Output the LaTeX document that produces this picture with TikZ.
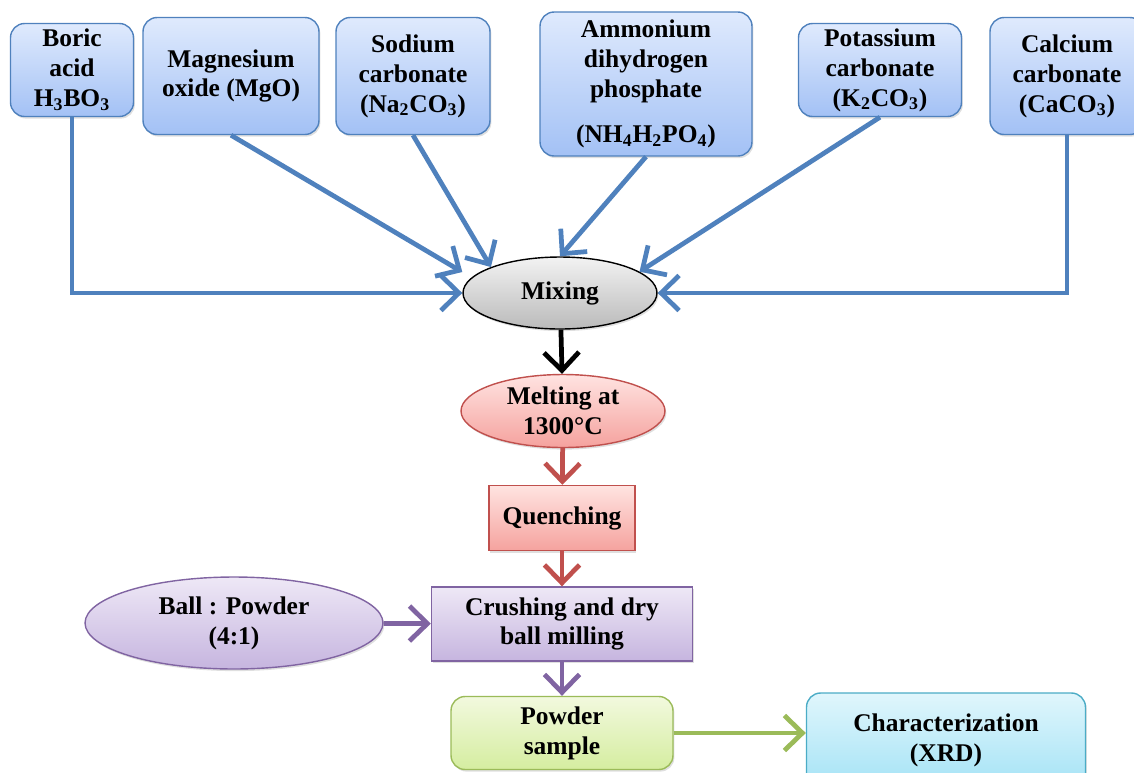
\documentclass[tikz,border=0pt]{standalone}
\usepackage{fontspec}
\setmainfont{Liberation Serif}
\usepackage{tikz}
\usepackage{xcolor}
\usetikzlibrary{arrows.meta, positioning, shapes.geometric, shadows}
\definecolor{flowblue}{HTML}{4F81BD}
\definecolor{flowbluetop}{HTML}{DFEAFD}
\definecolor{flowbluebot}{HTML}{A3C1F5}
\definecolor{flowred}{HTML}{C0504D}
\definecolor{flowredtop}{HTML}{FFE3E1}
\definecolor{flowredbot}{HTML}{F5A29E}
\definecolor{flowpurple}{HTML}{8064A2}
\definecolor{flowpurpletop}{HTML}{EEE8F6}
\definecolor{flowpurplebot}{HTML}{C6B5DF}
\definecolor{flowgreen}{HTML}{9BBB59}
\definecolor{flowgreentop}{HTML}{F2F9DE}
\definecolor{flowgreenbot}{HTML}{D5EDA0}
\definecolor{flowcyan}{HTML}{4BACC6}
\definecolor{flowcyantop}{HTML}{E0F6FC}
\definecolor{flowcyanbot}{HTML}{A5E3F6}

\begin{document}
\begin{tikzpicture}[
    x=0.02cm, y=-0.02cm,
    base/.style={font=\bfseries\fontsize{14.5}{17}\selectfont, text=black, align=center, line width=0.8pt,
      drop shadow={opacity=0.25, shadow xshift=0.8pt, shadow yshift=-1.2pt}},
    chem/.style={base, draw=flowblue, rounded corners=8pt, top color=flowbluetop, bottom color=flowbluebot, inner sep=1pt},
    procbox/.style={base, draw=#1, top color=#1top, bottom color=#1bot, inner sep=2pt},
    procell/.style={base, ellipse, draw=#1, top color=#1top, bottom color=#1bot, inner sep=0pt},
    feed/.style={-{Straight Barb[length=3.6mm, width=7mm]}, line width=2.7pt, color=#1},
]
\clip (0,0) rectangle (1134,772);

% Raw materials
\node[chem, minimum width=2.46cm, minimum height=1.86cm] (boric) at (72,70) {Boric\\acid\\H\textsubscript{3}BO\textsubscript{3}};
\node[chem, minimum width=3.52cm, minimum height=2.34cm] (mgo) at (231,76) {Magnesium\\oxide (MgO)};
\node[chem, minimum width=3.08cm, minimum height=2.34cm] (naco) at (413,76) {Sodium\\carbonate\\(Na\textsubscript{2}CO\textsubscript{3})};
\node[chem, minimum width=4.24cm, minimum height=2.88cm] (nhpo) at (646,84) {Ammonium\\dihydrogen\\phosphate\\[9pt](NH\textsubscript{4}H\textsubscript{2}PO\textsubscript{4})};
\node[chem, minimum width=3.26cm, minimum height=1.86cm] (kco) at (880,70) {Potassium\\carbonate\\(K\textsubscript{2}CO\textsubscript{3})};
\node[chem, minimum width=3.08cm, minimum height=2.34cm] (caco) at (1067,76) {Calcium\\carbonate\\(CaCO\textsubscript{3})};

% Process steps
\node[base, ellipse, draw=black, top color=white!95!black, bottom color=black!27, inner sep=0pt, minimum width=3.88cm, minimum height=1.44cm] (mix) at (560,293) {Mixing};
\node[procell=flowred, minimum width=4.08cm, minimum height=1.46cm] (melt) at (563,411) {Melting at\\1300°C};
\node[procbox=flowred, minimum width=2.92cm, minimum height=1.3cm] (quench) at (562,518) {Quenching};
\node[procbox=flowpurple, minimum width=5.22cm, minimum height=1.48cm] (crush) at (562,624) {Crushing and dry\\ball milling};
\node[procell=flowpurple, minimum width=5.96cm, minimum height=1.84cm] (ratio) at (234,623) {Ball : Powder\\(4:1)};
\node[procbox=flowgreen, rounded corners=8pt, minimum width=4.44cm, minimum height=1.46cm] (powder) at (562,733) {Powder\\sample};
\node[procbox=flowcyan, rounded corners=8pt, minimum width=5.58cm, minimum height=1.88cm] (xrd) at (946,740) {Characterization\\(XRD)};

% Arrows into mixing
\draw[feed=flowblue] (boric.south) |- (mix.west);
\draw[feed=flowblue] (mgo.south) -- ([yshift=0.42cm]mix.west);
\draw[feed=flowblue] (naco.south) -- (mix.north west);
\draw[feed=flowblue] (nhpo.south) -- (mix.north);
\draw[feed=flowblue] (kco.south) -- (mix.15);
\draw[feed=flowblue] (caco.south) |- (mix.east);

% Process chain
\draw[feed=black] (mix) -- (melt);
\draw[feed=flowred] (melt) -- (quench);
\draw[feed=flowred] (quench) -- (crush);
\draw[feed=flowpurple] (ratio) -- (crush);
\draw[feed=flowpurple] (crush) -- (powder);
\draw[feed=flowgreen] (powder.east) -- (powder.east -| xrd.west);

\end{tikzpicture}
\end{document}
